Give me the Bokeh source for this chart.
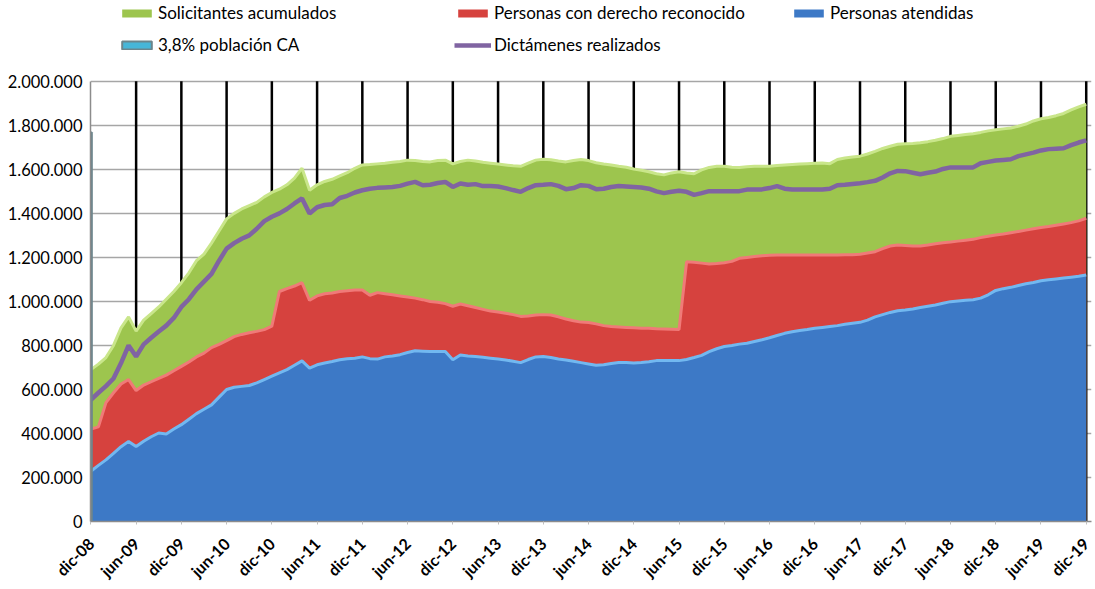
import math
from bokeh.plotting import figure
from bokeh.models import Range1d, FixedTicker, Legend, LegendItem
from bokeh.embed import file_html
from bokeh.resources import INLINE

# ---- data (thousands of persons), monthly dic-08 .. dic-19 ----
solicitantes_k = [
    690, 715, 745, 800, 880, 930, 865, 915, 945, 975,
    1010, 1045, 1085, 1130, 1185, 1215, 1265, 1320, 1375, 1400,
    1420, 1435, 1450, 1475, 1495, 1510, 1530, 1560, 1605, 1505,
    1530, 1545, 1555, 1570, 1585, 1605, 1620, 1622, 1625, 1628,
    1632, 1636, 1642, 1640, 1636, 1634, 1640, 1642, 1625, 1636,
    1642, 1638, 1632, 1628, 1624, 1620, 1616, 1614, 1628, 1642,
    1646, 1644, 1638, 1634, 1640, 1645, 1640, 1630, 1624, 1620,
    1614, 1610, 1602, 1596, 1589, 1580, 1575, 1584, 1589, 1584,
    1580, 1598, 1609, 1614, 1614, 1610, 1609, 1612, 1614, 1614,
    1614, 1618, 1620, 1622, 1624, 1626, 1628, 1629, 1626, 1645,
    1652, 1656, 1660, 1670, 1682, 1695, 1705, 1714, 1716, 1718,
    1721, 1726, 1732, 1740, 1750, 1754, 1758, 1762, 1768, 1775,
    1780, 1784, 1788, 1796, 1806, 1820, 1830, 1836, 1844, 1854,
    1870, 1884, 1896,
]
dictamenes_k = [
    553, 585, 615, 650, 720, 800, 750, 805, 835, 863,
    890, 925, 975, 1010, 1055, 1090, 1125, 1185, 1240, 1265,
    1285, 1300, 1330, 1365, 1385, 1400, 1420, 1445, 1468, 1400,
    1428, 1438, 1442, 1470, 1480, 1495, 1505, 1512, 1516, 1518,
    1520, 1525, 1535, 1543, 1528, 1530, 1538, 1543, 1520, 1536,
    1530, 1533, 1524, 1524, 1522, 1515, 1506, 1498, 1515, 1528,
    1530, 1533, 1525, 1510, 1515, 1528, 1525, 1510, 1512, 1520,
    1524, 1522, 1520, 1518, 1512, 1500, 1492, 1498, 1503, 1498,
    1484, 1492, 1501, 1501, 1501, 1501, 1501, 1508, 1509, 1509,
    1515, 1524, 1512, 1509, 1509, 1509, 1509, 1509, 1512, 1528,
    1530, 1534, 1537, 1542, 1548, 1563, 1582, 1593, 1592, 1585,
    1578, 1585, 1590, 1602, 1609, 1609, 1609, 1609, 1628, 1634,
    1640, 1643, 1646, 1660, 1668, 1676, 1686, 1692, 1694, 1696,
    1710, 1722, 1732,
]
derecho_k = [
    420, 430, 540, 585, 625, 645, 595, 620, 635, 650,
    665, 685, 705, 725, 748, 765, 790, 805, 822, 840,
    850, 858, 864, 872, 888, 1045, 1058, 1070, 1085, 1005,
    1025, 1035, 1038, 1045, 1048, 1052, 1052, 1028, 1040, 1035,
    1030, 1025, 1020, 1015, 1008, 1000, 996, 990, 978, 988,
    980, 972, 964, 956, 952, 946, 940, 932, 934, 938,
    940, 938, 930, 920, 912, 906, 904, 898, 890, 886,
    884, 882, 880, 878, 878, 876, 875, 874, 872, 1180,
    1178, 1174, 1170, 1172, 1176, 1182, 1196, 1200, 1204, 1208,
    1210, 1211, 1211, 1211, 1211, 1211, 1211, 1211, 1211, 1211,
    1212, 1212, 1214, 1220, 1226, 1240, 1252, 1256, 1254, 1252,
    1252, 1256, 1262, 1267, 1270, 1274, 1278, 1282, 1290, 1296,
    1302, 1306, 1312, 1318, 1324, 1330, 1336, 1340, 1346, 1352,
    1358, 1366, 1378,
]
atendidas_k = [
    228, 255, 280, 310, 340, 364, 341, 365, 385, 402,
    398, 420, 440, 465, 490, 510, 530, 565, 600, 610,
    614, 618, 630, 645, 660, 675, 690, 710, 730, 697,
    712, 720, 727, 735, 740, 742, 748, 740, 738, 748,
    752, 758, 768, 776, 774, 772, 772, 772, 735, 757,
    752, 750, 746, 742, 738, 734, 728, 722, 736, 748,
    750, 745, 738, 734, 728, 722, 716, 710, 712, 718,
    722, 722, 720, 722, 726, 731, 731, 731, 731, 736,
    745, 755, 772, 785, 795, 800, 806, 810, 818, 826,
    835, 845, 855, 862, 868, 872, 878, 882, 886, 890,
    896, 901, 905, 915, 930, 940, 950, 958, 961, 966,
    972, 978, 984, 992, 999, 1002, 1005, 1008, 1015, 1030,
    1050, 1058, 1064, 1072, 1080, 1086, 1094, 1098, 1102, 1106,
    1110, 1114, 1120,
]
poblacion_ca_k = [1767]  # only first month

x_tick_labels = ["dic-08", "jun-09", "dic-09", "jun-10", "dic-10", "jun-11",
                 "dic-11", "jun-12", "dic-12", "jun-13", "dic-13", "jun-14",
                 "dic-14", "jun-15", "dic-15", "jun-16", "dic-16", "jun-17",
                 "dic-17", "jun-18", "dic-18", "jun-19", "dic-19"]
y_tick_values = [0, 200000, 400000, 600000, 800000, 1000000, 1200000,
                 1400000, 1600000, 1800000, 2000000]
y_tick_labels = ["0", "200.000", "400.000", "600.000", "800.000", "1.000.000",
                 "1.200.000", "1.400.000", "1.600.000", "1.800.000", "2.000.000"]

solicitantes = [v * 1000 for v in solicitantes_k]
dictamenes = [v * 1000 for v in dictamenes_k]
derecho = [v * 1000 for v in derecho_k]
atendidas = [v * 1000 for v in atendidas_k]
poblacion_ca = [v * 1000 for v in poblacion_ca_k]
months = list(range(len(solicitantes)))
x_tick_pos = [6 * k for k in range(len(x_tick_labels))]
y_max = y_tick_values[-1]

FONT = "Lato"

# frame spans the whole height above the x axis (522 px); the value axis
# (0..2.000.000) occupies the lower 441 px, the legend sits above it.
FRAME_H = 522
AXIS_H = 441
p = figure(width=1092, height=589, output_backend="svg", toolbar_location=None,
           x_range=Range1d(-0.05, 132.7),
           y_range=Range1d(0, y_max * FRAME_H / AXIS_H),
           min_border_left=90, min_border_right=1, min_border_top=0,
           min_border_bottom=67)
p.outline_line_color = None
p.background_fill_color = "white"
p.border_fill_color = "white"

# grids
p.ygrid.ticker = FixedTicker(ticks=y_tick_values)
p.ygrid.grid_line_color = "#a6a6a6"
p.ygrid.grid_line_width = 1.5
p.xgrid.visible = False
# vertical black grid lines (every 6 months), only up to the top of the value axis
p.segment(x0=x_tick_pos[1:], y0=[0] * (len(x_tick_pos) - 1),
          x1=x_tick_pos[1:], y1=[y_max] * (len(x_tick_pos) - 1),
          line_color="black", line_width=2.5)

# axes
p.yaxis.ticker = FixedTicker(ticks=y_tick_values)
p.yaxis.bounds = (0, y_max)
p.yaxis.major_label_overrides = {v: l for v, l in zip(y_tick_values, y_tick_labels)}
p.yaxis.axis_line_color = "#8c8c8c"
p.yaxis.axis_line_width = 1.5
p.yaxis.major_tick_line_color = None
p.yaxis.minor_tick_line_color = None
p.yaxis.major_label_text_font = FONT
p.yaxis.major_label_text_font_size = "16.5px"
p.yaxis.major_label_text_color = "black"
p.yaxis.major_label_standoff = 2

p.xaxis.ticker = FixedTicker(ticks=x_tick_pos)
p.xaxis.major_label_overrides = {v: l for v, l in zip(x_tick_pos, x_tick_labels)}
p.xaxis.major_label_orientation = math.pi / 4
p.xaxis.axis_line_color = "#8c8c8c"
p.xaxis.axis_line_width = 1.5
p.xaxis.major_tick_line_color = "#bfbfbf"
p.xaxis.major_tick_in = 0
p.xaxis.major_tick_out = 3
p.xaxis.minor_tick_line_color = None
p.xaxis.major_label_text_font = FONT
p.xaxis.major_label_text_font_size = "16px"
p.xaxis.major_label_text_font_style = "bold"
p.xaxis.major_label_text_color = "black"
p.xaxis.major_label_standoff = 16

# areas
r_sol = p.varea(x=months, y1=0, y2=solicitantes, fill_color="#9dc54e")
p.line(months, solicitantes, line_color="#c9e68a", line_width=3)
r_der = p.varea(x=months, y1=0, y2=derecho, fill_color="#d6423e")
p.line(months, derecho, line_color="#f07a78", line_width=3)
r_ate = p.varea(x=months, y1=0, y2=atendidas, fill_color="#3d79c6")
p.line(months, atendidas, line_color="#72b8f0", line_width=3)
r_dic = p.line(months, dictamenes, line_color="#8064a2", line_width=4.5)
r_pob = p.vbar(x=months[:len(poblacion_ca)], top=poblacion_ca, width=0.25,
               fill_color="#46b6d8", line_color="#6b858c", line_width=2)

legend = Legend(items=[
    LegendItem(label="Solicitantes acumulados", renderers=[r_sol]),
    LegendItem(label="Personas con derecho reconocido", renderers=[r_der]),
    LegendItem(label="Personas atendidas", renderers=[r_ate]),
    LegendItem(label="3,8% población CA", renderers=[r_pob]),
    LegendItem(label="Dictámenes realizados", renderers=[r_dic]),
], orientation="horizontal", ncols=3, location=(28, 466))
legend.background_fill_alpha = 0
legend.border_line_color = None
legend.padding = 0
legend.margin = 0
legend.glyph_width = 37
legend.glyph_height = 10
legend.label_height = 20
legend.label_width = 285
legend.label_standoff = 3
legend.spacing = 11
legend.label_text_font = FONT
legend.label_text_font_size = "17px"
legend.label_text_color = "black"
legend.click_policy = "none"
p.add_layout(legend)

open("out.html", "w").write(file_html(p, INLINE))
